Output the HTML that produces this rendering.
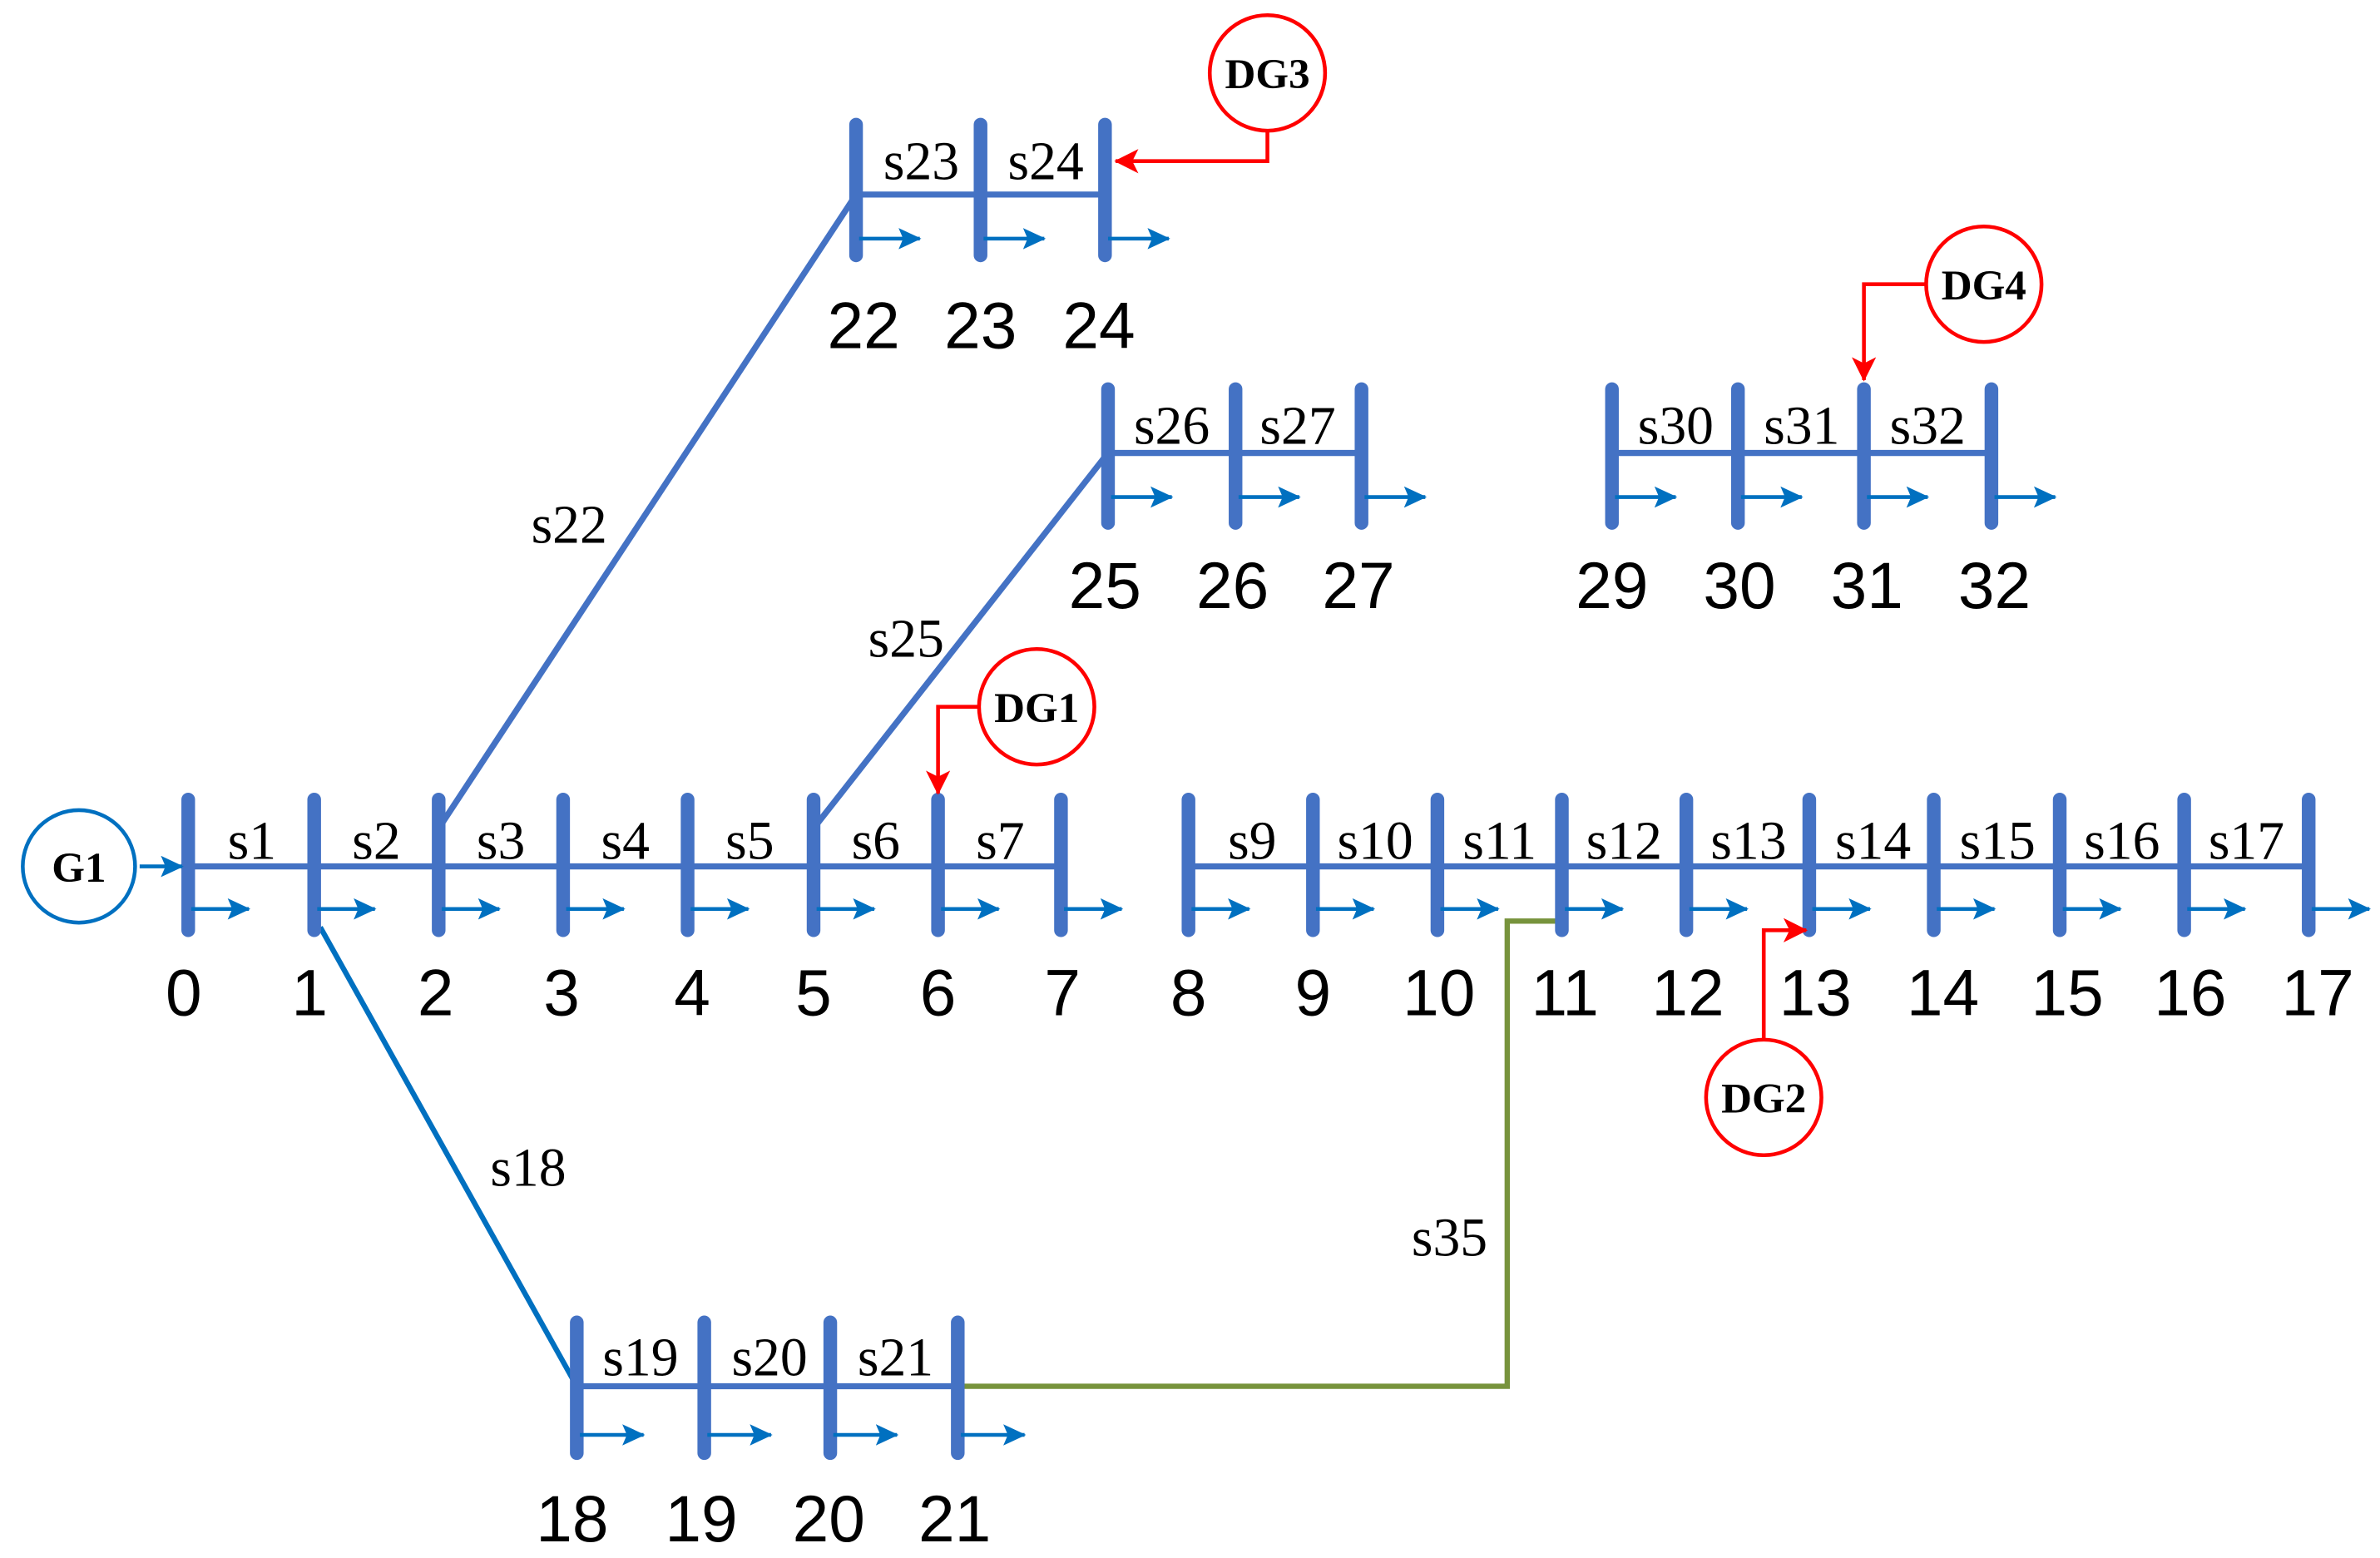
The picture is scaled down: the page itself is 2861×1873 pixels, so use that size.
<!DOCTYPE html>
<html><head><meta charset="utf-8"><style>html,body{margin:0;padding:0;background:#fff}svg{display:block}</style></head>
<body>
<svg width="2861" height="1873" viewBox="0 0 1568 1025" preserveAspectRatio="none" xmlns="http://www.w3.org/2000/svg">
<defs>
<marker id="ab" markerWidth="16" markerHeight="14" refX="14" refY="7" orient="auto" markerUnits="userSpaceOnUse"><path d="M0,0 L15,7 L0,14 L3,7 Z" fill="#0070C0"/></marker>
<marker id="ar" markerWidth="16" markerHeight="16" refX="15" refY="8" orient="auto" markerUnits="userSpaceOnUse"><path d="M0,0 L16,8 L0,16 L4,8 Z" fill="#FF0000"/></marker>
</defs>
<g stroke="#4472C4" stroke-width="4" fill="none">
<line x1="124" y1="570" x2="699" y2="570"/>
<line x1="783" y1="570" x2="1521" y2="570"/>
<line x1="564" y1="128" x2="728" y2="128"/>
<line x1="730" y1="298" x2="897" y2="298"/>
<line x1="1062" y1="298" x2="1312" y2="298"/>
<line x1="380" y1="912" x2="631" y2="912"/>
<line x1="289" y1="545" x2="564" y2="128"/>
<line x1="536" y1="545" x2="730" y2="298"/>
</g>
<line x1="211" y1="610" x2="380" y2="912" stroke="#0070C0" stroke-width="3.5"/>
<polyline points="631,912 993,912 993,606 1029,606" fill="none" stroke="#77933C" stroke-width="3.5"/>
<g stroke="#4472C4" stroke-width="9" stroke-linecap="round">
<line x1="124" y1="526" x2="124" y2="612"/><line x1="207" y1="526" x2="207" y2="612"/><line x1="289" y1="526" x2="289" y2="612"/><line x1="371" y1="526" x2="371" y2="612"/><line x1="453" y1="526" x2="453" y2="612"/><line x1="536" y1="526" x2="536" y2="612"/><line x1="618" y1="526" x2="618" y2="612"/><line x1="699" y1="526" x2="699" y2="612"/>
<line x1="783" y1="526" x2="783" y2="612"/><line x1="865" y1="526" x2="865" y2="612"/><line x1="947" y1="526" x2="947" y2="612"/><line x1="1029" y1="526" x2="1029" y2="612"/><line x1="1111" y1="526" x2="1111" y2="612"/><line x1="1192" y1="526" x2="1192" y2="612"/><line x1="1274" y1="526" x2="1274" y2="612"/><line x1="1357" y1="526" x2="1357" y2="612"/><line x1="1439" y1="526" x2="1439" y2="612"/><line x1="1521" y1="526" x2="1521" y2="612"/>
<line x1="564" y1="82" x2="564" y2="168"/><line x1="646" y1="82" x2="646" y2="168"/><line x1="728" y1="82" x2="728" y2="168"/>
<line x1="730" y1="256" x2="730" y2="344"/><line x1="814" y1="256" x2="814" y2="344"/><line x1="897" y1="256" x2="897" y2="344"/>
<line x1="1062" y1="256" x2="1062" y2="344"/><line x1="1145" y1="256" x2="1145" y2="344"/><line x1="1228" y1="256" x2="1228" y2="344"/><line x1="1312" y1="256" x2="1312" y2="344"/>
<line x1="380" y1="870" x2="380" y2="956"/><line x1="464" y1="870" x2="464" y2="956"/><line x1="547" y1="870" x2="547" y2="956"/><line x1="631" y1="870" x2="631" y2="956"/>
</g>
<g stroke="#0070C0" stroke-width="2.5" marker-end="url(#ab)">
<line x1="92" y1="570" x2="120" y2="570"/>
<line x1="126" y1="598" x2="164" y2="598"/><line x1="209" y1="598" x2="247" y2="598"/><line x1="291" y1="598" x2="329" y2="598"/><line x1="373" y1="598" x2="411" y2="598"/><line x1="455" y1="598" x2="493" y2="598"/><line x1="538" y1="598" x2="576" y2="598"/><line x1="620" y1="598" x2="658" y2="598"/><line x1="701" y1="598" x2="739" y2="598"/>
<line x1="785" y1="598" x2="823" y2="598"/><line x1="867" y1="598" x2="905" y2="598"/><line x1="949" y1="598" x2="987" y2="598"/><line x1="1031" y1="598" x2="1069" y2="598"/><line x1="1113" y1="598" x2="1151" y2="598"/><line x1="1194" y1="598" x2="1232" y2="598"/><line x1="1276" y1="598" x2="1314" y2="598"/><line x1="1359" y1="598" x2="1397" y2="598"/><line x1="1441" y1="598" x2="1479" y2="598"/><line x1="1523" y1="598" x2="1561" y2="598"/>
<line x1="566" y1="157" x2="606" y2="157"/><line x1="648" y1="157" x2="688" y2="157"/><line x1="730" y1="157" x2="770" y2="157"/>
<line x1="732" y1="327" x2="772" y2="327"/><line x1="816" y1="327" x2="856" y2="327"/><line x1="899" y1="327" x2="939" y2="327"/>
<line x1="1064" y1="327" x2="1104" y2="327"/><line x1="1147" y1="327" x2="1187" y2="327"/><line x1="1230" y1="327" x2="1270" y2="327"/><line x1="1314" y1="327" x2="1354" y2="327"/>
<line x1="382" y1="944" x2="424" y2="944"/><line x1="466" y1="944" x2="508" y2="944"/><line x1="549" y1="944" x2="591" y2="944"/><line x1="633" y1="944" x2="675" y2="944"/>
</g>
<g stroke="#FF0000" stroke-width="2.5" fill="none">
<polyline points="835,86 835,106 735,106" marker-end="url(#ar)"/>
<polyline points="1269,187 1228,187 1228,250" marker-end="url(#ar)"/>
<polyline points="645,465 618,465 618,522" marker-end="url(#ar)"/>
<polyline points="1162,684 1162,612 1190,612" marker-end="url(#ar)"/>
<circle cx="835" cy="48" r="38" fill="#fff"/>
<circle cx="1307" cy="187" r="38" fill="#fff"/>
<circle cx="683" cy="465" r="38" fill="#fff"/>
<circle cx="1162" cy="722" r="38" fill="#fff"/>
</g>
<circle cx="52" cy="570" r="37" fill="#fff" stroke="#0070C0" stroke-width="2.5"/>
<g font-family="Liberation Serif, serif" font-weight="bold" font-size="28" text-anchor="middle" fill="#000">
<text x="52" y="580">G1</text><text x="835" y="58">DG3</text><text x="1307" y="197">DG4</text><text x="683" y="475">DG1</text><text x="1162" y="732">DG2</text>
</g>
<g font-family="Liberation Serif, serif" font-size="36" text-anchor="middle" fill="#000">
<text x="166" y="565">s1</text><text x="248" y="565">s2</text><text x="330" y="565">s3</text><text x="412" y="565">s4</text><text x="494" y="565">s5</text><text x="577" y="565">s6</text><text x="659" y="565">s7</text>
<text x="825" y="565">s9</text><text x="906" y="565">s10</text><text x="988" y="565">s11</text><text x="1070" y="565">s12</text><text x="1152" y="565">s13</text><text x="1234" y="565">s14</text><text x="1316" y="565">s15</text><text x="1398" y="565">s16</text><text x="1480" y="565">s17</text>
<text x="607" y="118">s23</text><text x="689" y="118">s24</text>
<text x="772" y="292">s26</text><text x="855" y="292">s27</text>
<text x="1104" y="292">s30</text><text x="1187" y="292">s31</text><text x="1270" y="292">s32</text>
<text x="422" y="905">s19</text><text x="507" y="905">s20</text><text x="590" y="905">s21</text>
<text x="375" y="357">s22</text><text x="597" y="432">s25</text><text x="348" y="780">s18</text><text x="955" y="826">s35</text>
</g>
<g font-family="Liberation Sans, sans-serif" font-size="43" text-anchor="middle" fill="#000">
<text x="121" y="668">0</text><text x="204" y="668">1</text><text x="287" y="668">2</text><text x="370" y="668">3</text><text x="456" y="668">4</text><text x="536" y="668">5</text><text x="618" y="668">6</text><text x="700" y="668">7</text>
<text x="783" y="668">8</text><text x="865" y="668">9</text><text x="948" y="668">10</text><text x="1031" y="668">11</text><text x="1112" y="668">12</text><text x="1196" y="668">13</text><text x="1280" y="668">14</text><text x="1362" y="668">15</text><text x="1443" y="668">16</text><text x="1527" y="668">17</text>
<text x="569" y="229">22</text><text x="646" y="229">23</text><text x="724" y="229">24</text>
<text x="728" y="400">25</text><text x="812" y="400">26</text><text x="895" y="400">27</text>
<text x="1062" y="400">29</text><text x="1146" y="400">30</text><text x="1230" y="400">31</text><text x="1314" y="400">32</text>
<text x="377" y="1014">18</text><text x="462" y="1014">19</text><text x="546" y="1014">20</text><text x="629" y="1014">21</text>
</g>
</svg>
</body></html>
